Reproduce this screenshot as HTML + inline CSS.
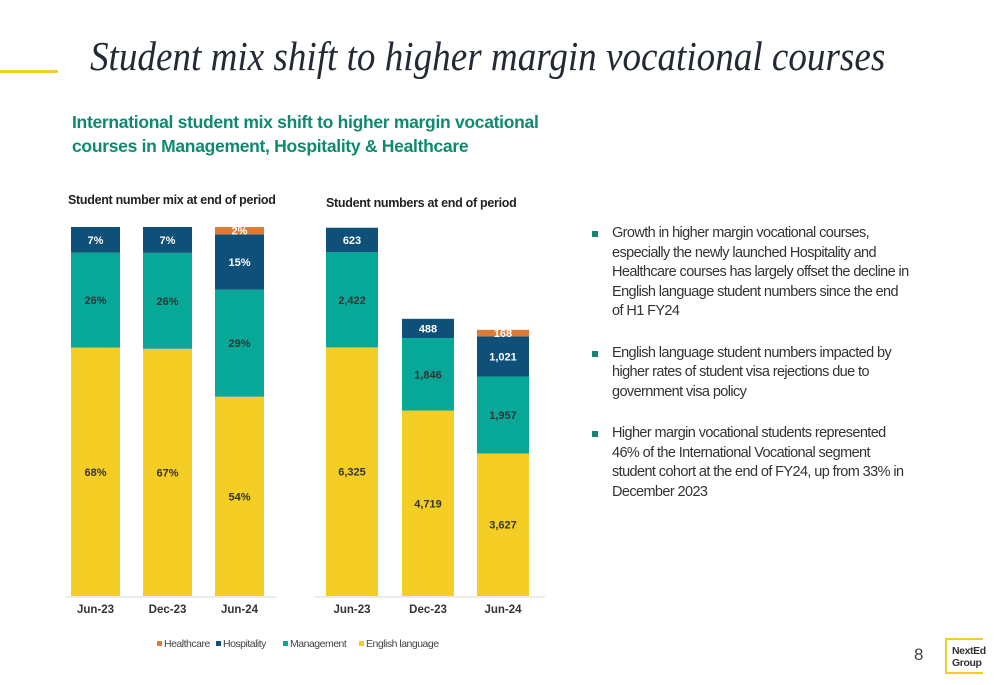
<!DOCTYPE html>
<html><head><meta charset="utf-8"><style>
body{margin:0;width:1000px;height:685px;background:#fff;position:relative;overflow:hidden;font-family:"Liberation Sans",sans-serif}
.abs{position:absolute}
#title{left:90px;top:32px;font-family:"Liberation Serif",serif;font-style:italic;font-size:41px;color:#222a35;white-space:nowrap;transform:scaleX(0.905);transform-origin:0 0}
#sub{left:72px;top:110px;font-size:17.5px;font-weight:bold;color:#0d8a70;line-height:24px;letter-spacing:-0.3px}
.ct{font-size:12.5px;font-weight:bold;color:#222;top:193px;letter-spacing:-0.3px}
#bul{left:592px;top:224px;width:320px;font-size:14.5px;color:#333;line-height:19.5px;letter-spacing:-0.6px}
#bul div{position:relative;padding-left:20px;margin-bottom:22px}
#bul div:before{content:"";position:absolute;left:0;top:7px;width:6px;height:6px;background:#0d8a70}
</style></head><body>
<div class="abs" style="left:0;top:70px;width:58px;height:3px;background:#f5ce25"></div>
<div id="title" class="abs">Student mix shift to higher margin vocational courses</div>
<div id="sub" class="abs">International student mix shift to higher margin vocational<br>courses in Management, Hospitality &amp; Healthcare</div>
<div class="abs ct" style="left:68px">Student number mix at end of period</div>
<div class="abs ct" style="left:326px;top:196px">Student numbers at end of period</div>
<svg class="abs" style="left:0;top:0" width="1000" height="685" id="chart"></svg>
<div id="bul" class="abs">
<div>Growth in higher margin vocational courses, especially the newly launched Hospitality and Healthcare courses has largely offset the decline in English language student numbers since the end of H1 FY24</div>
<div>English language student numbers impacted by higher rates of student visa rejections due to government visa policy</div>
<div>Higher margin vocational students represented 46% of the International Vocational segment student cohort at the end of FY24, up from 33% in December 2023</div>
</div>
<div class="abs" style="left:914px;top:645px;font-size:17px;color:#444">8</div>
<div class="abs" style="left:945px;top:638px;width:38px;height:36px;border:2px solid #f5ce25;border-right:none;box-sizing:border-box;font-size:10.5px;font-weight:bold;line-height:12px;padding:5px 0 0 5px;color:#333;letter-spacing:-0.4px">NextEd<br>Group</div>
<script>
const categories=["Jun-23","Dec-23","Jun-24"];
const seriesNames=["English language","Management","Hospitality","Healthcare"];
const colors=["#f5ce25","#07a898","#0f5078","#e07b36"];
const mixEnglish=[68,67,54];
const mixManagement=[26,26,29];
const mixHospitality=[7,7,15];
const mixHealthcare=[0,0,2];
const numEnglish=[6325,4719,3627];
const numManagement=[2422,1846,1957];
const numHospitality=[623,488,1021];
const numHealthcare=[0,0,168];
const svg=document.getElementById('chart');const NS="http://www.w3.org/2000/svg";
function el(t,a){const e=document.createElementNS(NS,t);for(const k in a)e.setAttribute(k,a[k]);svg.appendChild(e);return e;}
const base=596;
function drawChart(series,xs,bw,yScale,fmt,axisX1,axisX2,prefix){
  const ax=el('line',{x1:axisX1,x2:axisX2,y1:base+1,y2:base+1,stroke:'#d9d9d9','stroke-width':1});
  
  
  categories.forEach((c,i)=>{
    const vals=series.map(s=>s[i]);
    const tot=vals.reduce((a,b)=>a+b,0);
    let y=base;
    vals.forEach((v,j)=>{
      if(v<=0)return;
      const h=yScale(v,tot);
      const r=el('rect',{x:xs[i],y:y-h,width:bw,height:h,fill:colors[j]});
      
      
      const t=el('text',{x:xs[i]+bw/2,y:y-h/2+4,'text-anchor':'middle','font-size':11,'font-weight':'bold','font-family':'Liberation Sans, sans-serif',fill:(j>=2?'#fff':'#333')});
      t.textContent=fmt(v);
      
      
      y-=h;
    });
    const l=el('text',{x:xs[i]+bw/2,y:613,'text-anchor':'middle','font-size':11.5,'font-weight':'bold','font-family':'Liberation Sans, sans-serif',fill:'#333'});
    l.textContent=c;
    
    
  });
}
drawChart([mixEnglish,mixManagement,mixHospitality,mixHealthcare],[71,143,215],49,(v,t)=>v/t*369,v=>v+'%',66,276,'mix');
drawChart([numEnglish,numManagement,numHospitality,numHealthcare],[326,402,477],52,(v,t)=>v*0.0393,v=>v.toLocaleString('en-US'),315,545,'num');
const legend=[["Healthcare",3,157],["Hospitality",2,216],["Management",1,283],["English language",0,359]];
legend.forEach(([n,ci,x])=>{
  const r=el('rect',{x:x,y:641,width:5,height:5,fill:colors[ci]});
  
  
  const t=el('text',{x:x+7,y:647,'font-size':10.5,'font-family':'Liberation Sans, sans-serif',fill:'#444','letter-spacing':'-0.5'});
  t.textContent=n;
  
  
});
</script>
</body></html>
